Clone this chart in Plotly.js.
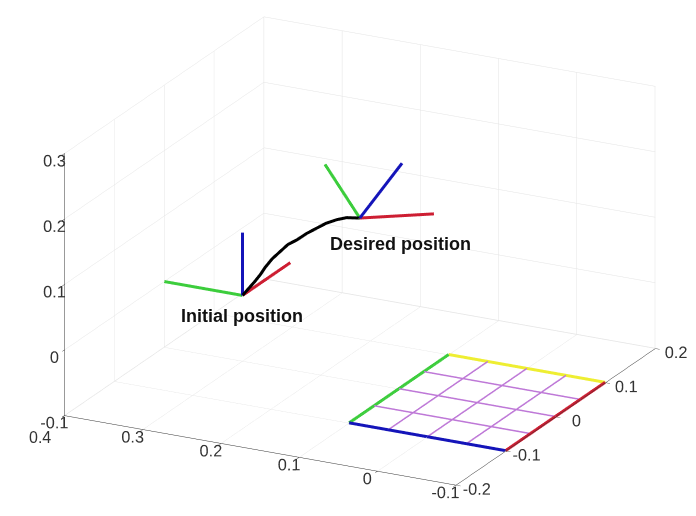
<!DOCTYPE html>
<html>
<head>
<meta charset="utf-8">
<script src="https://cdn.plot.ly/plotly-3.0.1.min.js"></script>
<style>
  html, body { margin: 0; padding: 0; background: #fff; }
  #plot { width: 696px; height: 516px; }
</style>
</head>
<body>
<div id="plot"></div>
<script>
// Camera frame origins (x, y, z)
const initialOrigin = [0.30, 0.00, 0.00];
const desiredOrigin = [0.15, 0.00, 0.15];

// Frame axis vectors (length 0.1) for the green, red and blue axes
const initialGreen = [0.100, 0.000, 0.000];
const initialRed   = [0.000, 0.096, 0.000];
const initialBlue  = [0.000, 0.000, 0.096];
const desiredGreen = [0.077, 0.051, 0.039];
const desiredRed   = [-0.040, 0.086, -0.030];
const desiredBlue  = [-0.047, 0.011, 0.088];

// Trajectory from the initial to the desired position
const pathX = [0.300, 0.284, 0.277, 0.271, 0.262, 0.252, 0.242, 0.230, 0.218, 0.205, 0.193, 0.180, 0.167, 0.150];
const pathY = [0.000, 0.000, 0.000, 0.000, 0.000, 0.000, 0.000, 0.000, 0.000, 0.000, 0.000, 0.000, 0.000, 0.000];
const pathZ = [0.000, 0.025, 0.037, 0.049, 0.064, 0.077, 0.090, 0.100, 0.112, 0.123, 0.133, 0.141, 0.147, 0.150];

// Planar target: 4 x 4 grid lying on the floor
const targetX = [-0.1, -0.05, 0, 0.05, 0.1];
const targetY = [-0.1, -0.05, 0, 0.05, 0.1];
const targetZ = -0.1;

// Axis ticks
const xTicks = [-0.1, 0, 0.1, 0.2, 0.3, 0.4];
const yTicks = [-0.2, -0.1, 0, 0.1, 0.2];
const zTicks = [-0.1, 0, 0.1, 0.2, 0.3];
// x tick whose label sits at the shared corner with the z axis (drawn just below it)
const xCornerTick = 0.4;

const GREEN = 'rgb(60,205,60)';
const RED = 'rgb(205,30,50)';
const BLUE = 'rgb(20,20,185)';
const YELLOW = 'rgb(238,238,50)';
const MAGENTA = 'rgb(190,120,215)';

function segment(p, v, color, width) {
  return {
    type: 'scatter3d', mode: 'lines',
    x: [p[0], p[0] + v[0]], y: [p[1], p[1] + v[1]], z: [p[2], p[2] + v[2]],
    line: { color: color, width: width },
    hoverinfo: 'skip', showlegend: false
  };
}
function line(xs, ys, zs, color, width) {
  return {
    type: 'scatter3d', mode: 'lines', x: xs, y: ys, z: zs,
    line: { color: color, width: width },
    hoverinfo: 'skip', showlegend: false
  };
}

const traces = [];
const n = targetX.length;
const x0 = targetX[0], x1 = targetX[n - 1];
const y0 = targetY[0], y1 = targetY[n - 1];
// inner grid lines
for (let i = 1; i < n - 1; i++) {
  traces.push(line([targetX[i], targetX[i]], [y0, y1], [targetZ, targetZ], MAGENTA, 3));
  traces.push(line([x0, x1], [targetY[i], targetY[i]], [targetZ, targetZ], MAGENTA, 3));
}
// coloured border of the target
traces.push(line([x1, x0], [y0, y0], [targetZ, targetZ], BLUE, 6));
traces.push(line([x0, x0], [y0, y1], [targetZ, targetZ], RED, 6));
traces.push(line([x0, x1], [y1, y1], [targetZ, targetZ], YELLOW, 6));
traces.push(line([x1, x1], [y1, y0], [targetZ, targetZ], GREEN, 6));

// trajectory
traces.push(line(pathX, pathY, pathZ, 'black', 6));

// frames
traces.push(segment(initialOrigin, initialGreen, GREEN, 6));
traces.push(segment(initialOrigin, initialRed, RED, 6));
traces.push(segment(initialOrigin, initialBlue, BLUE, 6));
traces.push(segment(desiredOrigin, desiredGreen, GREEN, 6));
traces.push(segment(desiredOrigin, desiredRed, RED, 6));
traces.push(segment(desiredOrigin, desiredBlue, BLUE, 6));

const tickFont = { family: 'Liberation Sans, Arial, sans-serif', size: 14, color: '#333' };
const cornerTickFont = { family: 'Liberation Sans, Arial, sans-serif', size: 16, color: '#333' };
function axis(range, ticks, hidden) {
  return {
    range: range,
    tickmode: 'array',
    tickvals: ticks,
    ticktext: ticks.map(v => (v === hidden ? '' : String(v))),
    tickangle: 0,
    title: { text: '' },
    showgrid: true, gridcolor: 'rgb(228,228,228)', gridwidth: 1,
    zeroline: false,
    showline: true, linecolor: '#333', linewidth: 1,
    ticks: 'outside', ticklen: 5, tickcolor: '#333',
    tickfont: tickFont,
    showbackground: false,
    showspikes: false
  };
}

const d = 3;
const eye = [0.425, -0.835, 0.349];
const boxScale = 1.75;
const labelFont = { family: 'Liberation Sans, Arial, sans-serif', size: 18, color: '#111' };

const layout = {
  width: 696, height: 516,
  margin: { l: 24, r: 0, t: 0, b: 14 },
  paper_bgcolor: '#fff',
  showlegend: false,
  scene: {
    xaxis: axis([0.4, -0.1005], xTicks, xCornerTick),
    yaxis: axis([-0.2, 0.2], yTicks),
    zaxis: axis([-0.1005, 0.3], zTicks),
    aspectmode: 'manual',
    aspectratio: { x: boxScale, y: boxScale, z: 0.637 * boxScale },
    camera: {
      eye: { x: eye[0] * d, y: eye[1] * d, z: eye[2] * d },
      up: { x: 0, y: 0, z: 1 },
      center: { x: 0, y: 0, z: 0 },
      projection: { type: 'orthographic' }
    },
    annotations: [
      { x: initialOrigin[0], y: initialOrigin[1], z: initialOrigin[2],
        text: '<b>Initial position</b>', showarrow: false,
        xanchor: 'center', yanchor: 'middle', yshift: -21, font: labelFont },
      { x: desiredOrigin[0], y: desiredOrigin[1], z: desiredOrigin[2],
        text: '<b>Desired position</b>', showarrow: false,
        xanchor: 'center', yanchor: 'middle', xshift: 41, yshift: -26, font: labelFont },
      // x tick label at the corner, placed below the z label "-0.1"
      { x: xCornerTick, y: yTicks[0], z: zTicks[0],
        text: String(xCornerTick), showarrow: false,
        xanchor: 'center', yanchor: 'middle', xshift: -25, yshift: -22, font: cornerTickFont }
    ]
  }
};

Plotly.newPlot('plot', traces, layout, { displayModeBar: false });
</script>
</body>
</html>
